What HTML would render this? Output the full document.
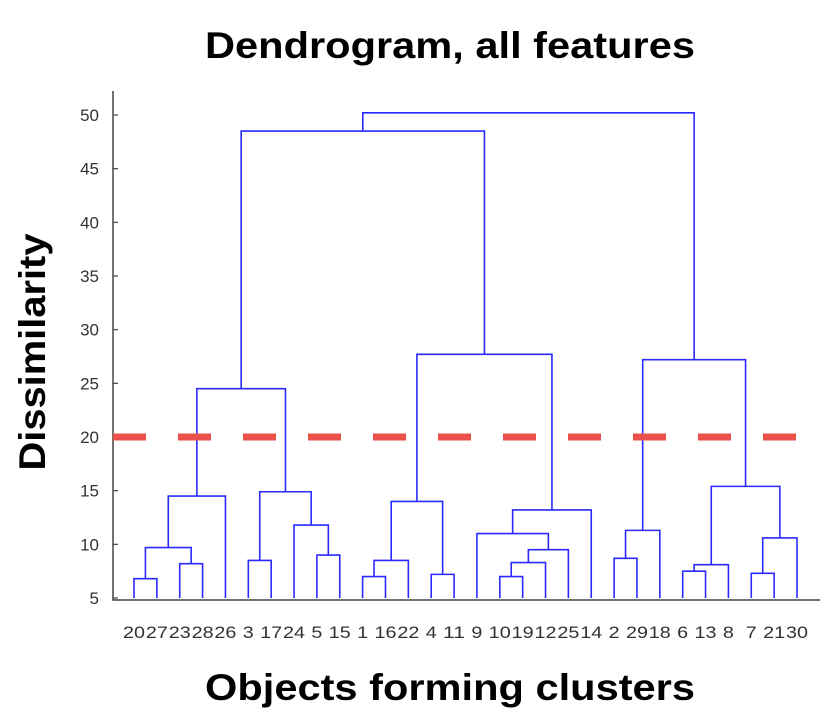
<!DOCTYPE html>
<html><head><meta charset="utf-8"><style>
html,body{margin:0;padding:0;background:#fff;}
svg{display:block;font-family:"Liberation Sans",Arial,sans-serif;}
</style></head><body>
<svg id="chart" width="834" height="716" viewBox="0 0 834 716">
<text x="450" y="58" text-anchor="middle" font-size="37" font-weight="bold" fill="#000" textLength="490" lengthAdjust="spacingAndGlyphs">Dendrogram, all features</text>
<text x="450" y="700" text-anchor="middle" font-size="37" font-weight="bold" fill="#000" textLength="490" lengthAdjust="spacingAndGlyphs">Objects forming clusters</text>
<text transform="translate(45,352) rotate(-90)" text-anchor="middle" font-size="37" font-weight="bold" fill="#000" textLength="237" lengthAdjust="spacingAndGlyphs">Dissimilarity</text>
<g id="axes"></g>
<g id="links"></g>
<g id="thr"></g>
<g id="leaves"></g>
</svg>
<script>
const leafLabels = ["20","27","23","28","26","3","17","24","5","15","1","16","22","4","11","9","10","19","12","25","14","2","29","18","6","13","8","7","21","30"];
const yTicks = [5,10,15,20,25,30,35,40,45,50];
// merges: leaf indices 0..29, merge k creates cluster 30+k
const mergeLeft  = [0, 2, 30, 32, 5, 8, 7, 34, 33, 10, 39, 13, 40, 16, 43, 44, 15, 46, 42, 38, 21, 50, 24, 52, 27, 54, 53, 51, 49];
const mergeRight = [1, 3, 31, 4, 6, 9, 35, 36, 37, 11, 12, 14, 41, 17, 18, 19, 45, 20, 47, 48, 22, 23, 25, 26, 28, 29, 55, 56, 57];
const mergeHeight= [6.8, 8.2, 9.7, 14.5, 8.5, 9.0, 11.8, 14.9, 24.5, 7.0, 8.5, 7.2, 14.0, 7.0, 8.3, 9.5, 11.0, 13.2, 27.7, 48.5, 8.7, 11.3, 7.5, 8.1, 7.3, 10.6, 15.4, 27.2, 50.2];
const threshold = 20;
</script>
<script>
const NS="http://www.w3.org/2000/svg";
const X0=113, X1=820, YB=600, YT=91;
const yScale=v=>598-(v-5)*(483/45);
const xLeaf=i=>134+i*(797-134)/29;
function mk(tag,attrs,parent){const e=document.createElementNS(NS,tag);for(const k in attrs)e.setAttribute(k,attrs[k]);parent.appendChild(e);return e;}
const axes=document.getElementById('axes');
let a=mk('path',{d:`M${X0},${YT}V${YB}H${X1}`,fill:'none',stroke:'#444','stroke-width':1.5},axes);


yTicks.forEach(t=>{
  const y=yScale(t);
  const tk=mk('line',{x1:X0,x2:X0+5,y1:y,y2:y,stroke:'#444','stroke-width':1.2},axes);
  
  
  const tx=mk('text',{x:X0-14,y:y+6,'text-anchor':'end','font-size':17,fill:'#333'},axes);
  tx.textContent=t;
  
  
});
const links=document.getElementById('links');
const posX=[],posY=[];
leafLabels.forEach((l,i)=>{posX[i]=xLeaf(i);posY[i]=5;});
const n=leafLabels.length;
for(let k=0;k<mergeLeft.length;k++){
  const L=mergeLeft[k],R=mergeRight[k],h=mergeHeight[k];
  if(posX[L]===undefined||posX[R]===undefined) continue;
  const y=yScale(h);
  const p=mk('path',{d:`M${posX[L]},${yScale(posY[L])}V${y}H${posX[R]}V${yScale(posY[R])}`,fill:'none',stroke:'#2a2aff','stroke-width':1.6},links);
  
  
  posX[n+k]=(posX[L]+posX[R])/2;posY[n+k]=h;
}
const thr=document.getElementById('thr');
const ty=yScale(threshold);
const tl=mk('line',{x1:X0,x2:798,y1:ty,y2:ty,stroke:'#e8524a','stroke-width':7,'stroke-dasharray':'33 32'},thr);


const lv=document.getElementById('leaves');
leafLabels.forEach((l,i)=>{
  const t=mk('text',{x:xLeaf(i),y:638,'text-anchor':'middle','font-size':17,fill:'#333','textLength':l.length>1?22:11,'lengthAdjust':'spacingAndGlyphs'},lv);
  t.textContent=l;
  
  
});
</script>
</body></html>
